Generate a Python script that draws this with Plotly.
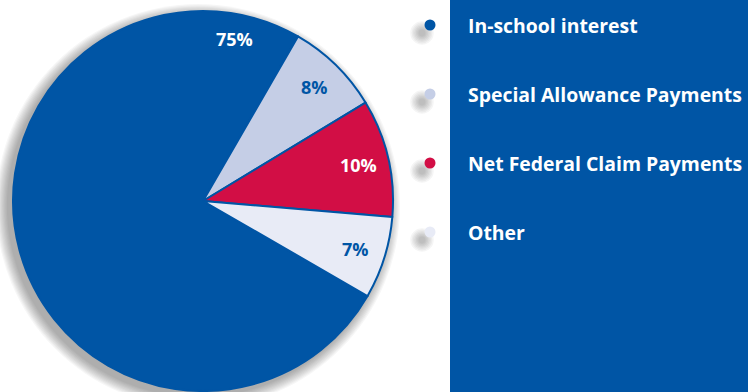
import math
import plotly.graph_objects as go

# Revenue composition
categories = ["In-school interest", "Special Allowance Payments",
              "Net Federal Claim Payments", "Other"]
shares = [75, 8, 10, 7]
slice_colors = ["#0055A5", "#C5CEE6", "#D20E45", "#E8EBF6"]
label_colors = ["#FFFFFF", "#0055A5", "#FFFFFF", "#0055A5"]

W, H = 748, 392
BLUE = "#0055A5"
FONT = "Open Sans"

# pie geometry (pixels)
cx, cy, r = 203, 201, 190
rotation = 120  # start angle of the first slice, clockwise from 12 o'clock

fig = go.Figure()

fig.add_trace(go.Pie(
    labels=categories, values=shares, sort=False, direction="clockwise",
    rotation=rotation, textinfo="none", showlegend=False,
    marker=dict(colors=slice_colors, line=dict(color=BLUE, width=2)),
    domain=dict(x=[(cx - r) / W, (cx + r) / W],
                y=[1 - (cy + r) / H, 1 - (cy - r) / H]),
))

# percentage labels placed along each slice
total = sum(shares)
angle = rotation
label_pos = []
for i, v in enumerate(shares):
    span = 360 * v / total
    if span > 180:
        a, rad = angle + span - 19, 0.87   # large slice: near its trailing edge
    else:
        a, rad = angle + span / 2, 0.84
    label_pos.append((a, rad))
    angle += span

annotations = []
for (a, rad), v, col in zip(label_pos, shares, label_colors):
    t = math.radians(a)
    annotations.append(dict(
        x=cx + rad * r * math.sin(t), y=cy - rad * r * math.cos(t),
        xref="x", yref="y", text=f"<b>{v}%</b>", showarrow=False,
        font=dict(family=FONT, size=18, color=col),
        xanchor="center", yanchor="middle"))

# legend rows
leg_x, leg_tx = 430, 466
leg_y = [25, 94, 163, 232]
for name, y in zip(categories, leg_y):
    annotations.append(dict(
        x=leg_tx, y=y, xref="x", yref="y", text=f"<b>{name}</b>",
        showarrow=False, font=dict(family=FONT, size=19.4, color="white"),
        xanchor="left", yanchor="middle"))

shapes = [dict(type="rect", xref="x", yref="y", x0=450, x1=W, y0=0, y1=H,
               fillcolor=BLUE, line_width=0, layer="below")]

# soft drop shadow behind the pie
for k in range(10, 0, -1):
    rr = r + k * 1.2
    shapes.append(dict(type="circle", xref="x", yref="y",
                       x0=cx - 5 - rr, x1=cx - 5 + rr,
                       y0=cy + 5 - rr, y1=cy + 5 + rr,
                       fillcolor="rgba(0,0,0,0.035)", line_width=0,
                       layer="below"))
# soft shadows behind legend dots
for y in leg_y:
    for k in range(7, 0, -1):
        rr = 2 + k * 1.4
        shapes.append(dict(type="circle", xref="x", yref="y",
                           x0=leg_x - 8 - rr, x1=leg_x - 8 + rr,
                           y0=y + 8 - rr, y1=y + 8 + rr,
                           fillcolor="rgba(0,0,0,0.04)", line_width=0,
                           layer="below"))

fig.add_trace(go.Scatter(
    x=[leg_x] * len(categories), y=leg_y, mode="markers",
    marker=dict(size=11, color=slice_colors, line_width=0),
    hovertext=categories, hoverinfo="text", showlegend=False,
))

fig.update_layout(
    width=W, height=H, margin=dict(l=0, r=0, t=0, b=0),
    paper_bgcolor="white", plot_bgcolor="rgba(0,0,0,0)",
    xaxis=dict(range=[0, W], visible=False, fixedrange=True),
    yaxis=dict(range=[H, 0], visible=False, fixedrange=True),
    shapes=shapes, annotations=annotations, showlegend=False,
)

fig.write_html("out.html")
